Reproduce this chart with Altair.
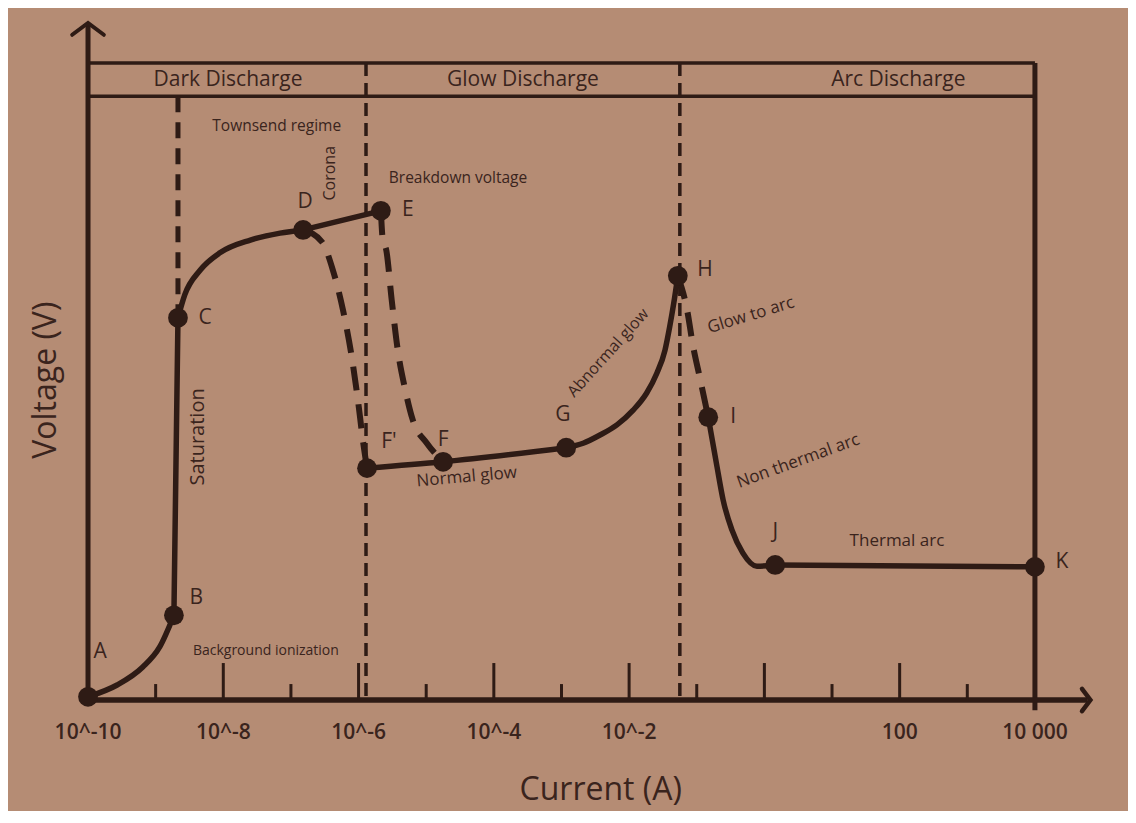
import altair as alt
import pandas as pd

# ---------------- data (x = log10 of current in A, y = voltage, arbitrary units) ----------
seg_names = ["AB", "BC", "CD", "DE", "FpG", "GH", "IJ", "JK"]
seg_x = [
    [-10.0, -9.57, -9.19, -8.94, -8.73],
    [-8.73, -8.67],
    [-8.67, -8.57, -8.34, -8.05, -7.60, -7.16, -6.82],
    [-6.82, -5.67],
    [-5.875, -4.75, -2.93],
    [-2.93, -2.68, -2.43, -2.18, -1.94, -1.74, -1.59, -1.47, -1.40, -1.34, -1.28],
    [-0.83, -0.77, -0.70, -0.61, -0.48, -0.32, -0.11, 0.16],
    [0.16, 4.0],
]
seg_y = [
    [0.5, 2.35, 5.18, 8.32, 13.3],
    [13.3, 60.0],
    [60.0, 63.6, 67.5, 70.2, 72.2, 73.3, 73.8],
    [73.8, 76.8],
    [36.4, 37.4, 39.6],
    [39.6, 40.3, 41.6, 43.2, 45.5, 48.2, 51.3, 54.9, 58.6, 62.3, 66.6],
    [44.4, 40.8, 36.6, 31.4, 26.7, 23.1, 21.0, 21.2],
    [21.2, 20.9],
]
dash_names = ["DFp", "EF", "HI"]
dash_x = [
    [-6.82, -6.54, -6.38, -6.23, -6.10, -6.01, -5.93, -5.875],
    [-5.67, -5.64, -5.59, -5.51, -5.42, -5.31, -5.20, -4.99, -4.75],
    [-1.28, -1.14, -1.06, -0.95, -0.83],
]
dash_y = [
    [73.8, 71.9, 67.5, 61.2, 53.8, 47.1, 40.3, 36.4],
    [76.8, 72.0, 70.6, 62.8, 54.9, 48.7, 44.0, 40.3, 37.4],
    [66.6, 61.1, 55.9, 50.4, 44.4],
]

pt_names = ["A", "B", "C", "D", "E", "F'", "F", "G", "H", "I", "J", "K"]
pt_x = [-10.0, -8.73, -8.67, -6.82, -5.67, -5.875, -4.75, -2.93, -1.28, -0.83, 0.16, 4.0]
pt_y = [0.5, 13.3, 60.0, 73.8, 76.8, 36.4, 37.4, 39.6, 66.6, 44.4, 21.2, 20.9]
lab_x = [-9.82, -8.40, -8.27, -6.79, -5.27, -5.55, -4.75, -2.98, -0.88, -0.46, 0.16, 4.40]
lab_y = [7.5, 16.0, 60.0, 78.2, 76.9, 40.5, 40.8, 44.7, 67.5, 44.4, 26.4, 21.7]

regimes = ["Dark Discharge", "Glow Discharge", "Arc Discharge"]
regime_x = [-7.93, -3.57, 1.98]
boundary_x = [-5.89, -1.25]

ann_text = ["Townsend regime", "Corona", "Breakdown voltage", "Saturation",
            "Background ionization", "Normal glow", "Abnormal glow", "Glow to arc",
            "Non thermal arc", "Thermal arc"]
ann_x = [-7.21, -6.42, -4.53, -8.37, -7.37, -4.40, -2.31, -0.20, 0.50, 1.96]
ann_y = [90.1, 82.7, 81.9, 41.3, 7.7, 35.0, 54.5, 60.4, 37.5, 25.0]
ann_angle = [0, 270, 0, 270, 0, 355, 312, 343, 340, 0]
ann_size = [15.5, 16, 15.5, 20, 14, 17, 16, 17, 17, 17]

tick_decades = [-9, -8, -7, -6, -5, -4, -3, -2, -1, 0, 1, 2, 3]
tick_major = [False, True, False, True, False, True, False, True, False, True, False, True, False]
label_decades = [-10, -8, -6, -4, -2, 2, 4]
label_texts = ["10^-10", "10^-8", "10^-6", "10^-4", "10^-2", "100", "10 000"]

# ---------------- styling ----------------
BG = "#b58c74"
INK = "#2e1b15"
TXT = "#3a241d"
FONT = "Open Sans"

W, H = 1120, 803
XD = [-11.183, 5.376]
YD = [-17.43, 108.64]
xs = alt.Scale(domain=XD, nice=False, zero=False)
ys = alt.Scale(domain=YD, nice=False, zero=False)


def X(f="x"):
    return alt.X(f"{f}:Q", scale=xs, axis=None)


def Y(f="y"):
    return alt.Y(f"{f}:Q", scale=ys, axis=None)


frame = pd.DataFrame({
    "x": [-10.0, -10.0, -10.0, 4.0, -10.0],
    "x2": [4.0, 4.0, -10.0, 4.0, 4.78],
    "y": [100.0, 94.8, -0.6, 100.0, 0.0],
    "y2": [100.0, 94.8, 106.0, -1.6, 0.0],
    "w": [3.5, 3.5, 5, 5, 5.5],
})
frame_layer = alt.Chart(frame).mark_rule(color=INK, strokeCap="butt").encode(
    x=X(), x2="x2:Q", y=Y(), y2="y2:Q",
    strokeWidth=alt.StrokeWidth("w:Q", scale=None, legend=None),
)

arrows = pd.DataFrame({"x": [-10.0, 4.82], "y": [106.3, 0.0], "k": ["up", "right"]})
arrow_up = alt.Chart(arrows[arrows.k == "up"]).mark_point(
    shape="M -1 0.75 L 0 0 L 1 0.75", filled=False, stroke=INK, strokeWidth=4,
    size=1000, strokeCap="round", strokeJoin="miter", opacity=1,
).encode(x=X(), y=Y())
arrow_right = alt.Chart(arrows[arrows.k == "right"]).mark_point(
    shape="M -0.75 -1 L 0 0 L -0.75 1", filled=False, stroke=INK, strokeWidth=4.5,
    size=500, strokeCap="round", strokeJoin="miter", opacity=1,
).encode(x=X(), y=Y())

sep = pd.DataFrame({
    "x": [-8.67] + boundary_x,
    "y": [94.8, 100.0, 100.0],
    "y2": [60.0, 0.0, 0.0],
})
sep_layer = alt.Chart(sep.iloc[1:]).mark_rule(color=INK, strokeWidth=3.5, strokeDash=[13, 7]).encode(
    x=X(), y=Y(), y2="y2:Q")
sep0 = alt.Chart(sep.iloc[[0]]).mark_rule(color=INK, strokeWidth=5, strokeDash=[16, 10]).encode(
    x=X(), y=Y(), y2="y2:Q")

ticks = pd.DataFrame({"x": tick_decades, "major": tick_major})
ticks["y2"] = ticks["major"].map({True: 5.8, False: 2.5})
ticks["y"] = 0.0
tick_layer = alt.Chart(ticks).mark_rule(color=INK, strokeWidth=3).encode(
    x=X(), y=Y(), y2="y2:Q")

rows = []
for n, xx, yy in zip(seg_names, seg_x, seg_y):
    for i, (a, b) in enumerate(zip(xx, yy)):
        rows.append({"seg": n, "i": i, "x": a, "y": b})
curve_df = pd.DataFrame(rows)
curve_layer = alt.Chart(curve_df).mark_line(
    color=INK, strokeWidth=5.5, interpolate="monotone", strokeCap="round", strokeJoin="round"
).encode(x=X(), y=Y(), detail="seg:N", order="i:Q")

rows = []
for n, xx, yy in zip(dash_names, dash_x, dash_y):
    for i, (a, b) in enumerate(zip(xx, yy)):
        rows.append({"seg": n, "i": i, "x": a, "y": b})
dash_df = pd.DataFrame(rows)
dash_layer = alt.Chart(dash_df).mark_line(
    color=INK, strokeWidth=6, interpolate="monotone", strokeDash=[24, 14], strokeCap="butt"
).encode(x=X(), y=Y(), detail="seg:N", order="i:Q")

pts = pd.DataFrame({"name": pt_names, "x": pt_x, "y": pt_y, "lx": lab_x, "ly": lab_y})
pt_layer = alt.Chart(pts).mark_circle(color=INK, size=390, opacity=1).encode(x=X(), y=Y())
pt_lab = alt.Chart(pts).mark_text(font=FONT, fontSize=21, color=TXT, align="center",
                                  baseline="middle").encode(
    x=X("lx"), y=Y("ly"), text="name:N")

reg = pd.DataFrame({"t": regimes, "x": regime_x, "y": [97.4] * 3})
reg_layer = alt.Chart(reg).mark_text(font=FONT, fontSize=21, color=TXT, align="center",
                                     baseline="middle").encode(x=X(), y=Y(), text="t:N")

ann = pd.DataFrame({"t": ann_text, "x": ann_x, "y": ann_y, "a": ann_angle, "s": ann_size})
ann_layer = alt.Chart(ann).mark_text(font=FONT, color=TXT, align="center",
                                     baseline="middle").encode(
    x=X(), y=Y(), text="t:N",
    angle=alt.Angle("a:Q", scale=None),
    size=alt.Size("s:Q", scale=None, legend=None),
)

tl = pd.DataFrame({"x": label_decades, "t": label_texts, "y": [-5.2] * len(label_texts)})
tl_layer = alt.Chart(tl).mark_text(font=FONT, fontSize=21, fontWeight=600, color=TXT,
                                   align="center", baseline="middle").encode(
    x=X(), y=Y(), text="t:N")

titles = pd.DataFrame({"t": ["Voltage (V)", "Current (A)"], "x": [-10.62, -2.42],
                       "y": [50.2, -14.1], "a": [270, 0]})
title_layer = alt.Chart(titles).mark_text(font=FONT, fontSize=32, color=TXT, align="center",
                                          baseline="middle").encode(
    x=X(), y=Y(), text="t:N", angle=alt.Angle("a:Q", scale=None))

chart = alt.layer(
    frame_layer, sep_layer, sep0, tick_layer, arrow_up, arrow_right,
    dash_layer, curve_layer, pt_layer, pt_lab, reg_layer, ann_layer, tl_layer, title_layer,
).properties(
    width=W, height=H, background=BG, padding=0,
    autosize=alt.AutoSizeParams(type="none"),
).configure_view(stroke=None)

chart.save("out.html", embed_options={"renderer": "svg", "actions": False})
